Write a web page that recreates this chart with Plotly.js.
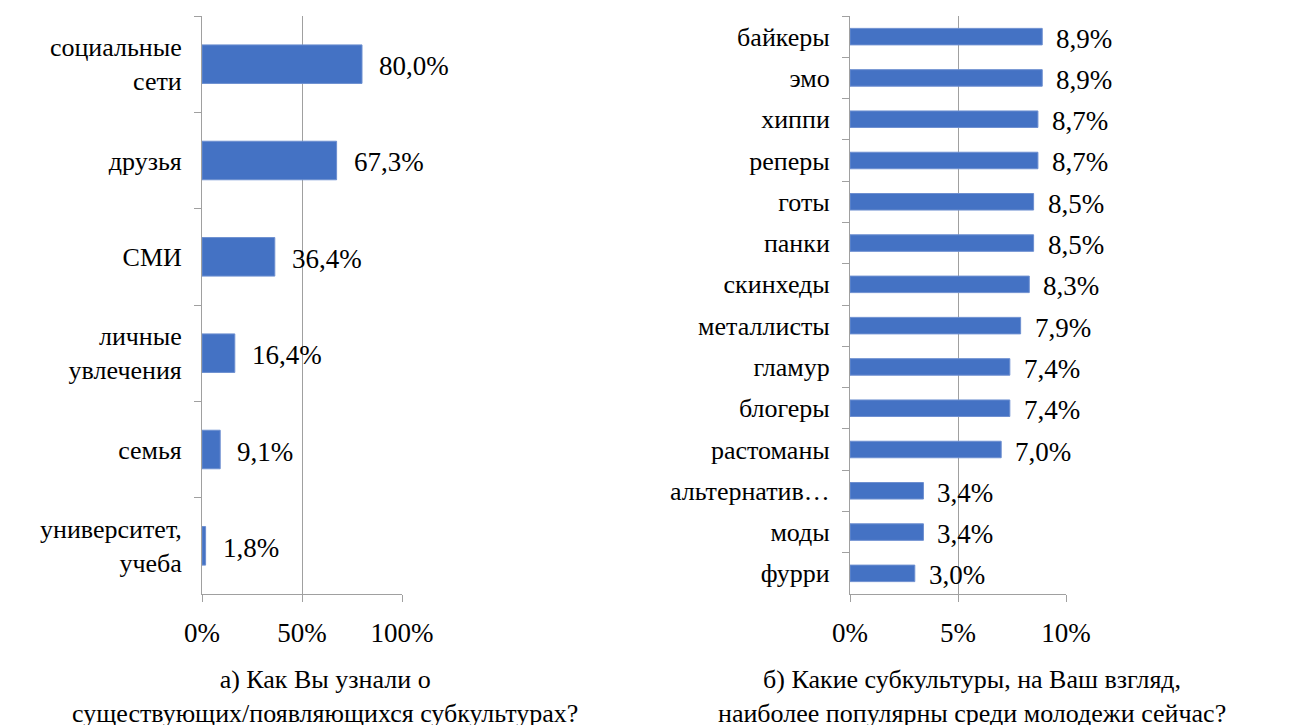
<!DOCTYPE html>
<html>
<head>
<meta charset="utf-8">
<script src="https://cdn.plot.ly/plotly-3.0.1.min.js"></script>
<style>
html,body{margin:0;padding:0;background:#fff;}
#chart{position:absolute;left:0;top:0;width:1293px;height:725px;z-index:1;}
#warm{position:absolute;left:470px;top:300px;z-index:0;font-size:26px;color:#fff;line-height:1;}
</style>
</head>
<body>
<div id="warm"><span style="font-family:'Liberation Serif'">а0%</span></div>
<div id="chart"></div>
<script>
// Left chart: how did you learn about subcultures
const leftCategories = ['социальные<br>сети', 'друзья', 'СМИ', 'личные<br>увлечения', 'семья', 'университет,<br>учеба'];
const leftValues = [80.0, 67.3, 36.4, 16.4, 9.1, 1.8];
const leftTicks = [0, 50, 100];

// Right chart: most popular subcultures
const rightCategories = ['байкеры', 'эмо', 'хиппи', 'реперы', 'готы', 'панки', 'скинхеды', 'металлисты', 'гламур', 'блогеры', 'растоманы', 'альтернатив…', 'моды', 'фурри'];
const rightValues = [8.9, 8.9, 8.7, 8.7, 8.5, 8.5, 8.3, 7.9, 7.4, 7.4, 7.0, 3.4, 3.4, 3.0];
const rightTicks = [0, 5, 10];

const leftTitle = ['а) Как Вы узнали о', 'существующих/появляющихся субкультурах?'];
const rightTitle = ['б) Какие субкультуры, на Ваш взгляд,', 'наиболее популярны среди молодежи сейчас?'];

const FONT = 'Liberation Serif';
const BLUE = '#4472C4';
const GRID = '#a0a0a0';
const fmt = v => v.toFixed(1).replace('.', ',') + '%';

function build() {
  const traces = [
    {type: 'bar', orientation: 'h', x: leftValues, y: leftCategories, xaxis: 'x', yaxis: 'y',
     marker: {color: BLUE, line: {color: '#6d8fd0', width: 1}}, width: 0.4, hoverinfo: 'skip'},
    {type: 'bar', orientation: 'h', x: rightValues, y: rightCategories, xaxis: 'x2', yaxis: 'y2',
     marker: {color: BLUE, line: {color: '#6d8fd0', width: 1}}, width: 0.4, hoverinfo: 'skip'}
  ];

  const annotations = [];
  leftValues.forEach((v, i) => annotations.push({x: v, y: leftCategories[i], xref: 'x', yref: 'y',
    text: fmt(v), showarrow: false, xanchor: 'left', xshift: 15, yshift: -2, font: {family: FONT, size: 27, color: '#000'}}));
  rightValues.forEach((v, i) => annotations.push({x: v, y: rightCategories[i], xref: 'x2', yref: 'y2',
    text: fmt(v), showarrow: false, xanchor: 'left', xshift: 12, yshift: -2, font: {family: FONT, size: 27, color: '#000'}}));

  function titleBlock(lines, cx) {
    annotations.push({x: cx / 1293, y: 1 - 696 / 725, xref: 'paper', yref: 'paper',
      text: lines.join('<br>'), showarrow: false, xanchor: 'center', yanchor: 'middle', align: 'center',
      font: {family: FONT, size: 26, color: '#000'}});
  }
  titleBlock(leftTitle, 325);
  titleBlock(rightTitle, 972);

  const yDom = [1 - 594 / 725, 1 - 16 / 725];
  const xaxisBase = {
    showgrid: true, gridcolor: GRID, gridwidth: 1, showline: true, linecolor: GRID, linewidth: 1,
    ticks: 'outside', ticklen: 7, tickcolor: GRID, zeroline: false, fixedrange: true, tickmode: 'array',
    tickfont: {family: FONT, size: 27, color: '#000'}, ticklabelstandoff: 8
  };
  const yaxisBase = {
    type: 'category', showgrid: false, showline: true, linecolor: GRID, linewidth: 1,
    ticks: 'outside', ticklen: 7, tickcolor: GRID, tickson: 'boundaries', zeroline: false, fixedrange: true,
    tickfont: {family: FONT, size: 26, color: '#000'}, ticklabelstandoff: 14
  };

  const layout = {
    width: 1293, height: 725, margin: {l: 0, r: 0, t: 0, b: 0},
    paper_bgcolor: '#fff', plot_bgcolor: '#fff', showlegend: false, bargap: 0.6,
    font: {family: FONT, color: '#000'},
    xaxis: Object.assign({}, xaxisBase, {domain: [202 / 1293, 402 / 1293], range: [0, 100], tickvals: leftTicks, ticktext: leftTicks.map(t => t + '%'), anchor: 'y'}),
    yaxis: Object.assign({}, yaxisBase, {domain: yDom, range: [leftCategories.length - 0.5, -0.5], categoryarray: leftCategories, categoryorder: 'array', anchor: 'x'}),
    xaxis2: Object.assign({}, xaxisBase, {domain: [850 / 1293, 1066 / 1293], range: [0, 10], tickvals: rightTicks, ticktext: rightTicks.map(t => t + '%'), anchor: 'y2'}),
    yaxis2: Object.assign({}, yaxisBase, {domain: yDom, range: [rightCategories.length - 0.5, -0.5], categoryarray: rightCategories, categoryorder: 'array', anchor: 'x2'}),
    annotations: annotations
  };
  return {traces, layout};
}

function draw() {
  const b = build();
  Plotly.newPlot('chart', b.traces, b.layout, {displayModeBar: false});
}

draw();
if (document.fonts && document.fonts.load) {
  Promise.all([
    document.fonts.load('26px "Liberation Serif"', 'аб0%'),
    document.fonts.load('27px "Liberation Serif"', 'аб0%')
  ]).then(draw).catch(function () {});
}
setTimeout(draw, 250);
</script>
</body>
</html>
